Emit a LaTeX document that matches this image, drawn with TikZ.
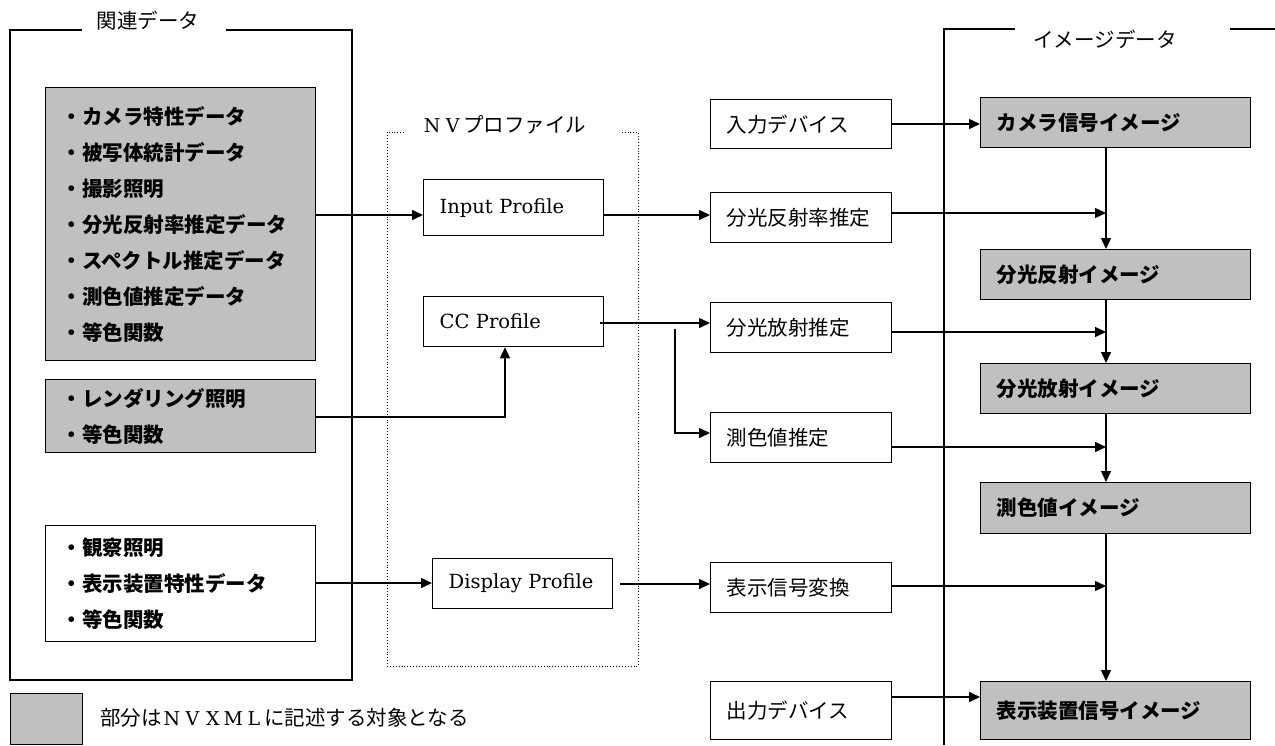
\documentclass[tikz,border=0pt]{standalone}
\usepackage{fontspec}
\newfontfamily\jp{Noto Sans CJK JP}
\newfontfamily\serifL{DejaVu Serif}
\usetikzlibrary{arrows.meta}
\definecolor{boxgray}{HTML}{C0C0C0}
\newcommand\fwc[1]{\makebox[20.5pt]{\serifL\fontsize{19}{22}\selectfont #1}}
\tikzset{
  box/.style={draw=black, line width=1.3pt, inner xsep=16pt, inner ysep=0pt, anchor=north west, align=left},
  gbox/.style={box, fill=boxgray},
  wbox/.style={box, fill=white},
  jfont/.style={font=\jp\fontsize{20.5}{36}\selectfont},
  jbfont/.style={font=\jp\bfseries\fontsize{20.5}{36}\selectfont},
  lfont/.style={font=\serifL\fontsize{19.5}{24}\selectfont},
  midbox/.style={wbox, jfont, minimum width=181pt, minimum height=50pt, text width=149pt},
  rbox/.style={gbox, jbfont, minimum width=270pt, minimum height=50pt, text width=238pt},
  pbox/.style={wbox, lfont, minimum width=180pt, minimum height=50pt, text width=148pt},
  lbox/.style={jbfont, minimum width=270pt, text width=238pt},
  lbl/.style={jfont, inner sep=0pt},
  conn/.style={line width=1.5pt},
  arr/.style={conn, -{Triangle[length=11pt,width=10pt]}},
  frame/.style={line width=1.2pt},
  nvframe/.style={line width=0.9pt, dotted},
}
\begin{document}
\begin{tikzpicture}[x=1pt,y=-1pt]
\useasboundingbox (0,0) rectangle (1275,745);
% frames
\draw[frame] (82,30) -- (10,30) -- (10,680) -- (352,680) -- (352,30) -- (226,30);
\node[lbl] (lblrel) at (148,21) {関連データ};
\draw[frame] (1015,29) -- (944,29) -- (944,745);
\draw[frame] (1230,29) -- (1275,29);
\node[lbl] (lblimg) at (1105,39) {イメージデータ};
\draw[nvframe] (404,132) -- (387,132) -- (387,666) -- (638,666) -- (638,132) -- (621,132);
\node[lbl] (lblnv) at (504,125) {\fwc{N}\fwc{V}プロファイル};
% left boxes
\node[gbox, lbox, minimum height=273pt] (g1) at (45,87)
  {・カメラ特性データ\\・被写体統計データ\\・撮影照明\\・分光反射率推定データ\\・スペクトル推定データ\\・測色値推定データ\\・等色関数};
\node[gbox, lbox, minimum height=73pt] (g2) at (45,379) {・レンダリング照明\\・等色関数};
\node[wbox, lbox, minimum height=116pt] (w3) at (45,525) {・観察照明\\・表示装置特性データ\\・等色関数};
% profiles
\node[pbox, minimum height=56pt] (ip) at (423,179) {Input Profile};
\node[pbox] (cc) at (423,296) {CC Profile};
\node[pbox] (dp) at (432,558) {Display Profile};
% middle boxes
\node[midbox, minimum height=49pt] (m1) at (710,99) {入力デバイス};
\node[midbox] (m2) at (710,192) {分光反射率推定};
\node[midbox] (m3) at (710,302) {分光放射推定};
\node[midbox] (m4) at (710,412) {測色値推定};
\node[midbox] (m5) at (710,562) {表示信号変換};
\node[midbox, minimum height=58pt] (m6) at (710,681) {出力デバイス};
% right boxes
\node[rbox] (r1) at (980,97) {カメラ信号イメージ};
\node[rbox] (r2) at (980,249) {分光反射イメージ};
\node[rbox] (r3) at (980,363) {分光放射イメージ};
\node[rbox, minimum height=51pt] (r4) at (980,482) {測色値イメージ};
\node[rbox, minimum height=58pt] (r5) at (980,681) {表示装置信号イメージ};
% legend
\node[gbox, minimum width=72pt, minimum height=51pt] (leg) at (10,693) {};
\node[lbl, anchor=west] (legtxt) at (100,718) {部分は\fwc{N}\fwc{V}\fwc{X}\fwc{M}\fwc{L}に記述する対象となる};
% connectors left -> profiles
\draw[arr] (g1.east |- 0,215) -- (ip.west |- 0,215);
\draw[arr] (g2.east |- 0,417) -- (505,417) -- (cc.south -| 505,0);
\draw[arr] (w3.east |- 0,583) -- (dp.west |- 0,583);
% profiles -> middle
\draw[arr] (ip.east |- 0,215) -- (m2.west |- 0,215);
\draw[arr] (600,323) -- (m3.west |- 0,323);
\coordinate (br) at (675,329);
\draw[arr] (br) -- (675,433) -- (m4.west |- 0,433);
\draw[arr] (620,584) -- (m5.west |- 0,584);
% middle -> right
\draw[arr] (m1.east |- 0,124) -- (r1.west |- 0,124);
\draw[arr] (m2.east |- 0,213) -- (1106,213);
\draw[arr] (m3.east |- 0,332) -- (1106,332);
\draw[arr] (m4.east |- 0,447) -- (1106,447);
\draw[arr] (m5.east |- 0,586) -- (1106,586);
\draw[arr] (m6.east |- 0,697) -- (r5.west |- 0,697);
% vertical chain
\draw[arr] (r1.south -| 1106,0) -- (r2.north -| 1106,0);
\draw[arr] (r2.south -| 1106,0) -- (r3.north -| 1106,0);
\draw[arr] (r3.south -| 1106,0) -- (r4.north -| 1106,0);
\draw[arr] (r4.south -| 1106,0) -- (r5.north -| 1106,0);
\end{tikzpicture}
\end{document}
